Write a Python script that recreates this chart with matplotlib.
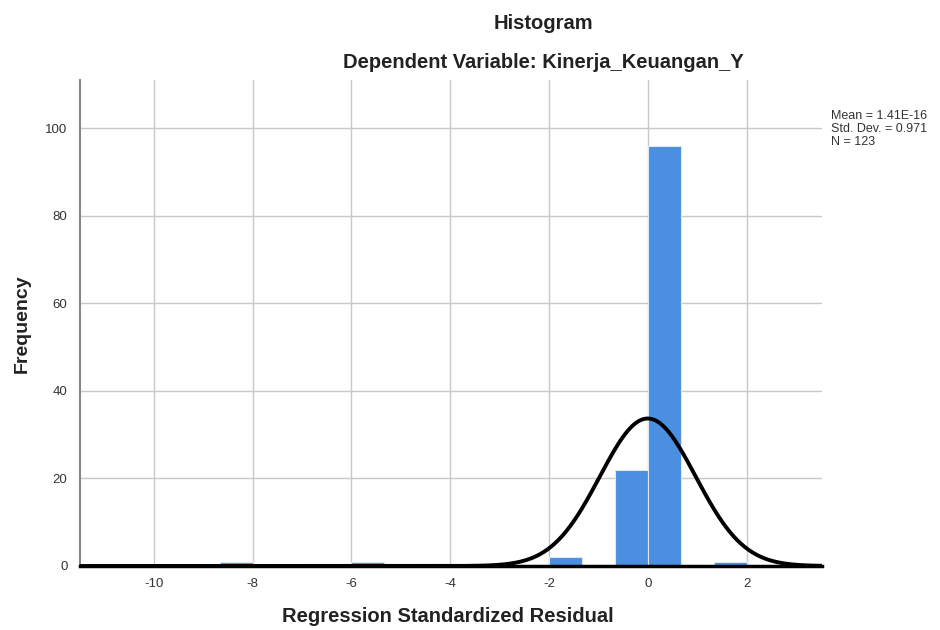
import numpy as np
import matplotlib.pyplot as plt

# residual histogram (SPSS output)
bin_left = [-26/3, -6, -2, -2/3, 0, 4/3]
counts = [1, 1, 2, 22, 96, 1]
bin_width = 2/3

mean = 1.41e-16
std = 0.971
n = 123

xticks = [-10, -8, -6, -4, -2, 0, 2]
yticks = [0, 20, 40, 60, 80, 100]

plt.rcParams["font.family"] = ["Liberation Sans", "DejaVu Sans"]
plt.rcParams["axes.unicode_minus"] = False

fig = plt.figure(figsize=(9.4, 6.3), dpi=100)
ax = fig.add_axes([0.085, 0.1016, 0.789, 0.7714])

ax.bar(bin_left, counts, width=bin_width, align="edge", color="#4a8fe0",
       edgecolor="#dde8f5", linewidth=0.8, zorder=2)

# normal curve scaled to counts
xs = np.linspace(-11.5, 3.52, 600)
ys = n * bin_width * np.exp(-0.5 * ((xs - mean) / std) ** 2) / (std * np.sqrt(2 * np.pi))
ax.plot(xs, ys, color="black", lw=2.8, zorder=3)

ax.set_xlim(-11.5, 3.52)
ax.set_ylim(0, 111)
ax.set_xticks(xticks)
ax.set_yticks(yticks)
ax.tick_params(length=0, labelsize=9.5, colors="#333333", pad=9)
ax.grid(True, color="#c8c8c8", lw=1, zorder=0)
ax.set_axisbelow(True)

for s in ["top", "right"]:
    ax.spines[s].set_visible(False)
ax.spines["left"].set_color("#888888")
ax.spines["left"].set_linewidth(1.5)
ax.spines["bottom"].set_color("black")
ax.spines["bottom"].set_linewidth(2.5)
ax.spines["bottom"].set_zorder(4)

fig.text(0.476, 0.022, "Regression Standardized Residual", ha="center", va="center",
         fontsize=14.5, fontweight="bold", color="#222222")
fig.text(0.024, 0.487, "Frequency", ha="center", va="center", rotation=90,
         fontsize=14, fontweight="bold", color="#222222")

fig.text(0.578, 0.962, "Histogram", ha="center", va="center", fontsize=14.5,
         fontweight="bold", color="#222222")
fig.text(0.578, 0.9, "Dependent Variable: Kinerja_Keuangan_Y", ha="center",
         va="center", fontsize=14.5, fontweight="bold", color="#222222")

fig.text(0.884, 0.795, "Mean = 1.41E-16\nStd. Dev. = 0.971\nN = 123", ha="left",
         va="center", fontsize=9, color="#333333", linespacing=1.1)

fig.savefig("out.png", dpi=100)
